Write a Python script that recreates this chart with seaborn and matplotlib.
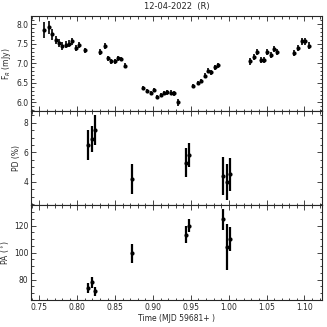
import seaborn as sns
import matplotlib.pyplot as plt
import pandas as pd

sns.set_style("ticks")
plt.rcParams['font.family'] = ['DejaVu Sans']

# flux light curve
t_flux = [0.7566, 0.7628, 0.7672, 0.7716, 0.7760, 0.7804, 0.7848, 0.7892, 0.7936, 0.7980,
          0.8024, 0.8099, 0.8301, 0.8363, 0.8407, 0.8451, 0.8495, 0.8539, 0.8583, 0.8627,
          0.8865, 0.8927, 0.8971, 0.9015, 0.9059, 0.9103, 0.9147, 0.9191, 0.9235, 0.9279,
          0.9332, 0.9534, 0.9596, 0.9640, 0.9684, 0.9728, 0.9772, 0.9817, 0.9861,
          1.0283, 1.0336, 1.0380, 1.0424, 1.0468, 1.0512, 1.0556, 1.0600, 1.0644,
          1.0864, 1.0921, 1.0965, 1.1009, 1.1062]
flux = [7.85, 7.92, 7.74, 7.60, 7.51, 7.45, 7.48, 7.50, 7.56, 7.39,
        7.47, 7.33, 7.29, 7.45, 7.13, 7.05, 7.05, 7.13, 7.11, 6.94,
        6.37, 6.29, 6.24, 6.31, 6.14, 6.20, 6.24, 6.26, 6.25, 6.23,
        6.01, 6.43, 6.50, 6.54, 6.68, 6.81, 6.77, 6.90, 6.95,
        7.05, 7.17, 7.29, 7.09, 7.09, 7.29, 7.22, 7.36, 7.29,
        7.26, 7.39, 7.57, 7.57, 7.45]
flux_err = [0.20, 0.17, 0.15, 0.11, 0.10, 0.10, 0.10, 0.09, 0.08, 0.08,
            0.07, 0.07, 0.07, 0.08, 0.06, 0.06, 0.06, 0.06, 0.06, 0.07,
            0.06, 0.05, 0.05, 0.05, 0.05, 0.05, 0.06, 0.06, 0.06, 0.06,
            0.09, 0.05, 0.05, 0.05, 0.06, 0.06, 0.06, 0.06, 0.06,
            0.09, 0.08, 0.08, 0.07, 0.07, 0.08, 0.08, 0.08, 0.07,
            0.08, 0.08, 0.09, 0.09, 0.09]

# polarisation
t_pol = [0.8147, 0.8195, 0.8240, 0.8729, 0.9433, 0.9477, 0.9931, 0.9980, 1.0019]
pd_val = [6.5, 6.9, 7.5, 4.2, 5.3, 5.8, 4.4, 4.0, 4.5]
pd_err = [1.0, 0.9, 1.0, 1.0, 1.0, 0.8, 1.3, 1.2, 1.1]
pa_val = [73.8, 78.0, 71.3, 99.5, 113.3, 120.0, 124.5, 104.3, 110.0]
pa_err = [4.0, 4.0, 3.5, 7.0, 6.0, 5.0, 8.0, 17.0, 9.0]

flux_df = pd.DataFrame({'t': t_flux, 'y': flux, 'e': flux_err})
pd_df = pd.DataFrame({'t': t_pol, 'y': pd_val, 'e': pd_err})
pa_df = pd.DataFrame({'t': t_pol, 'y': pa_val, 'e': pa_err})

fig, axes = plt.subplots(3, 1, sharex=True, figsize=(3.27, 3.27), dpi=100)
fig.subplots_adjust(left=0.095, right=0.985, top=0.951, bottom=0.083, hspace=0)

panels = [(flux_df, 'F$_R$ (mJy)', (5.79, 8.21), [6.0, 6.5, 7.0, 7.5, 8.0], 0.1, 1.2),
          (pd_df, 'PD (%)', (2.42, 8.82), [4, 6, 8], 0.5, 1.6),
          (pa_df, 'PA ($^\\circ$)', (65, 135), [80, 100, 120], 5, 1.6)]

for ax, (df, lab, lim, ticks, minor, lw) in zip(axes, panels):
    ax.errorbar(df['t'], df['y'], yerr=df['e'], fmt='none', ecolor='black', elinewidth=lw, capsize=0)
    sns.scatterplot(x='t', y='y', data=df, ax=ax, color='black', s=9, linewidth=0, legend=None)
    ax.set_ylim(*lim)
    ax.set_yticks(ticks)
    ax.yaxis.set_minor_locator(plt.MultipleLocator(minor))
    ax.set_ylabel(lab, fontsize=5.5, labelpad=2)
    ax.set_xlabel('')
    ax.tick_params(which='both', direction='in', top=True, right=True, labelsize=5.5, width=0.6, pad=2)
    ax.tick_params(which='major', length=3.5)
    ax.tick_params(which='minor', length=1.8)
    for s in ax.spines.values():
        s.set_linewidth(0.8)

axes[0].yaxis.set_major_formatter(plt.FormatStrFormatter('%.1f'))
axes[2].set_xlim(0.739, 1.1234)
axes[2].set_xticks([0.75, 0.80, 0.85, 0.90, 0.95, 1.00, 1.05, 1.10])
axes[2].xaxis.set_major_formatter(plt.FormatStrFormatter('%.2f'))
axes[2].xaxis.set_minor_locator(plt.MultipleLocator(0.01))
axes[2].set_xlabel('Time (MJD 59681+ )', fontsize=5.5, labelpad=2)
axes[0].set_title('12-04-2022  (R)', fontsize=6, pad=5)

plt.savefig('out.png', dpi=100)
